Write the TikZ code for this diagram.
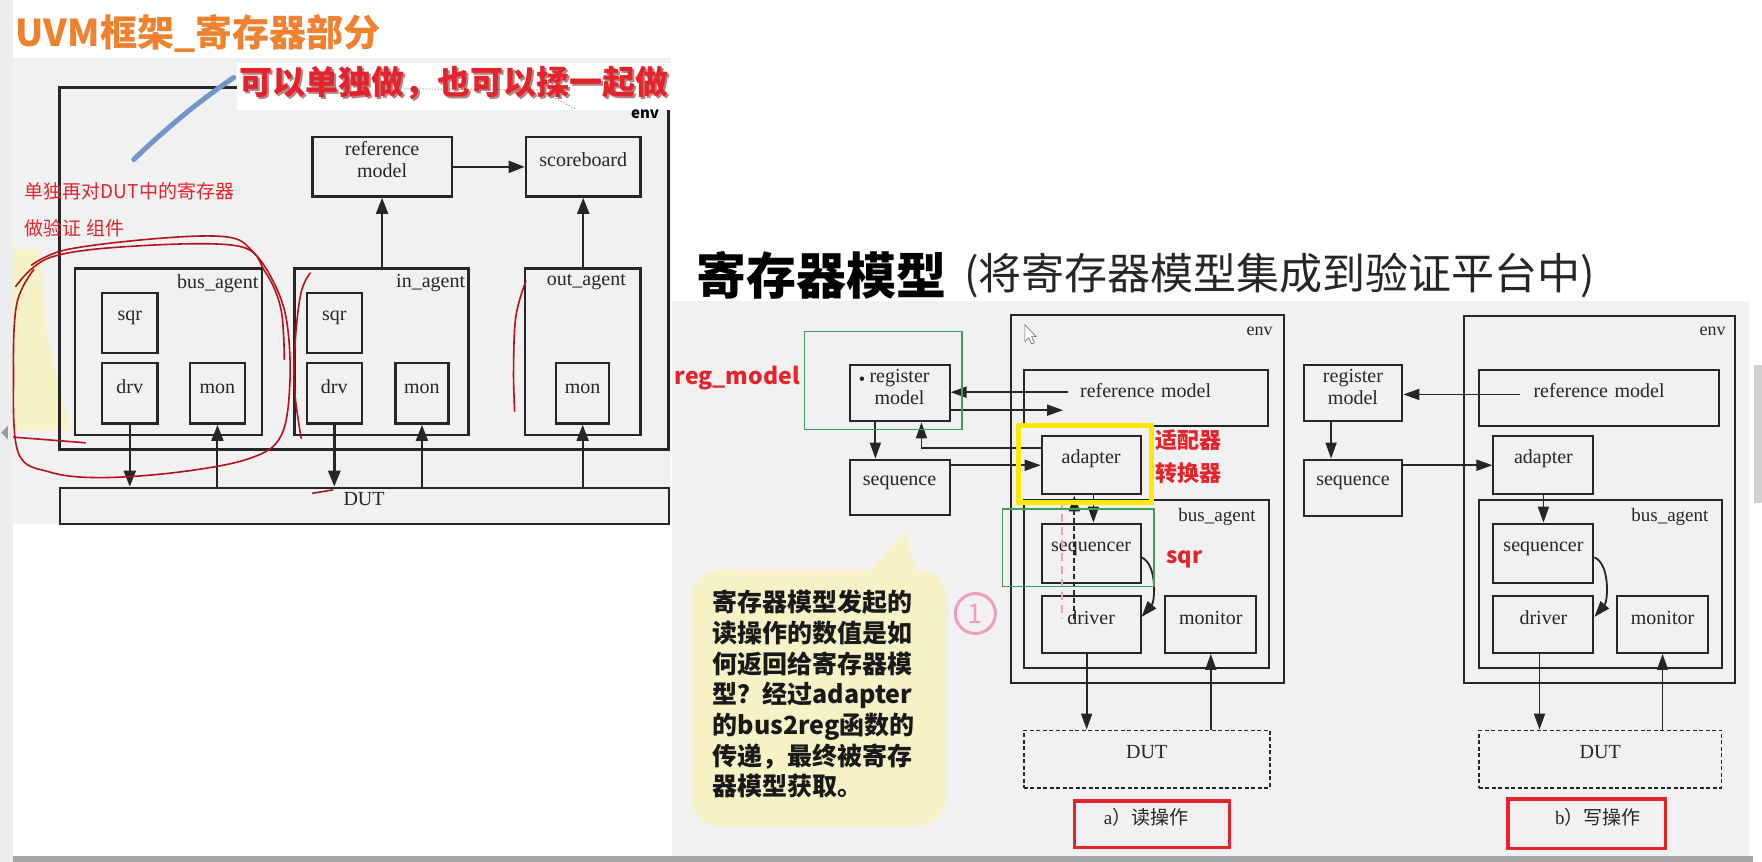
\documentclass[tikz,border=0pt]{standalone}
\usepackage{fontspec}
\setmainfont{Liberation Serif}
\newfontfamily\cjk{Noto Sans CJK SC}
\usetikzlibrary{arrows.meta,fit,calc}
\def\U{1.1237pt}
\definecolor{orangeT}{HTML}{F0812E}
\definecolor{redT}{HTML}{E5232B}
\definecolor{darkR}{HTML}{B5121B}
\definecolor{ink}{HTML}{262626}
\definecolor{panel}{HTML}{F1F1F1}
\definecolor{greenB}{HTML}{3E9E55}
\definecolor{yelH}{HTML}{FFE800}
\definecolor{callout}{HTML}{F5F3C6}
\definecolor{pinkC}{HTML}{F29CC0}
\definecolor{blueS}{HTML}{7096CC}
\begin{document}
\begin{tikzpicture}[x=1.1237pt,y=-1.1237pt,
  bx/.style={draw=ink, line width=2.4pt, inner sep=0pt, fit={#1}, font=\fontsize{20}{22}\selectfont, text=ink, align=center},
  bxr/.style={draw=ink, line width=2pt, inner sep=0pt, fit={#1}, font=\fontsize{20}{22}\selectfont, text=ink, align=center},
  dutbox/.style={draw=ink, line width=1.8pt, dash pattern=on 4pt off 2.5pt, inner sep=0pt, fit={#1}, font=\fontsize{20}{22}\selectfont, text=ink},
  lbl/.style={font=\fontsize{20}{22}\selectfont, text=ink, inner sep=0pt},
  larr/.style={draw=ink, line width=2pt, -{Triangle[length=16pt,width=12pt]}},
  arr/.style={draw=ink, line width=1.8pt, -{Triangle[length=16pt,width=11pt]}},
  gbox/.style={draw=greenB, line width=1.3pt, inner sep=0pt, fit={#1}},
  redlbl/.style={font=\cjk\bfseries\fontsize{22}{24}\selectfont, text=redT, inner sep=0pt},
  scrib/.style={draw=darkR, line width=1.6pt, line cap=round, line join=round},
  capbox/.style={draw=redT, line width=3.5pt, inner sep=0pt, fit={#1}}
]
\fill[white] (0,0) rectangle (1568,767);
\useasboundingbox (0,0) rectangle (1568,767);
% backgrounds
\fill[black!7] (0,0) rectangle (12,767);
\fill[black!40] (1,385) -- (7,379) -- (7,391) -- cycle;
\fill[panel] (12,52) rectangle (597,466);
\fill[callout] (12,222) -- (35,222) -- (42,300) -- (63,383) -- (12,383) -- cycle;
\fill[panel] (598,268) rectangle (1556,762);
\fill[black!35] (12,762) rectangle (1560,767);
\fill[black!18] (1561,325) rectangle (1568,448);

% titles
\node[anchor=west, inner sep=0, text=orangeT, font=\cjk\bfseries\fontsize{37}{40}\selectfont] (title) at (14,30) {UVM框架\_寄存器部分};

% ================= left diagram =================
\node[bx={(53,78) (595,400)}] (Lenv) {};
\node[bx={(278,122) (402,175)}] (Lref) {reference\\model};
\node[bx={(468,122) (570,175)}] (Lsb) {scoreboard};
\node[bx={(67,239) (233,387)}] (LbA) {};
\node[bx={(91,261) (140,314)}] (LbSqr) {sqr};
\node[bx={(91,323) (140,377)}] (LbDrv) {drv};
\node[bx={(169,323) (218,377)}] (LbMon) {mon};
\node[bx={(262,239) (417,387)}] (LiA) {};
\node[bx={(273,261) (322,314)}] (LiSqr) {sqr};
\node[bx={(273,323) (322,377)}] (LiDrv) {drv};
\node[bx={(352,323) (399,377)}] (LiMon) {mon};
\node[bx={(467,239) (570,387)}] (LoA) {};
\node[bx={(495,323) (542,377)}] (LoMon) {mon};
\node[bxr={(53,434) (595,466)}] (Ldut) {DUT};
\node[lbl, anchor=north east] (LbAl) at ([xshift=-4*\U,yshift=-6*\U]LbA.north east) {bus\_agent};
\node[lbl, anchor=north east] (LiAl) at ([xshift=-4*\U,yshift=-6*\U]LiA.north east) {in\_agent};
\node[lbl, anchor=north east] (LoAl) at ([xshift=-14*\U,yshift=-6*\U]LoA.north east) {out\_agent};

\draw[larr] (LbDrv.south) -- (LbDrv.south |- Ldut.north);
\draw[larr] (LbMon.south |- Ldut.north) -- (LbMon.south);
\draw[larr, line width=3pt] (LiDrv.south) -- (LiDrv.south |- Ldut.north);
\draw[larr] (LiMon.south |- Ldut.north) -- (LiMon.south);
\draw[larr] (LoMon.south |- Ldut.north) -- (LoMon.south);
\draw[larr] (LiA.north -| Lref.south) -- (Lref.south);
\draw[larr] (LoA.north -| Lsb.south) -- (Lsb.south);
\draw[larr] (Lref.east) -- (Lsb.west);

% annotation layer on left
\fill[white] (211,56) rectangle (608,98);
\draw[black!45, line width=1pt, dotted] (360,79) -- (480,80) -- (512,97);
\node[inner sep=0, text=darkR!60!black, opacity=0.5, font=\cjk\bfseries\fontsize{33}{36}\selectfont] (redShadow) at (405.5,75.5) {可以单独做，也可以揉一起做};
\node[inner sep=0, text=redT, font=\cjk\bfseries\fontsize{33}{36}\selectfont] (redTop) at (404,74) {可以单独做，也可以揉一起做};
\node[anchor=center, inner sep=0, font=\cjk\bfseries\fontsize{15}{15}\selectfont] (LenvL) at (574,102) {env};
\draw[blueS, line width=5pt, line cap=round] (119,142) .. controls (150,112) and (180,88) .. (208,69);
\node[anchor=west, inner sep=0, text=redT, font=\cjk\fontsize{19}{20}\selectfont] (note1) at (22,170) {单独再对DUT中的寄存器};
\node[anchor=west, inner sep=0, text=redT, font=\cjk\fontsize{19}{20}\selectfont] (note2) at (22,203) {做验证 组件};
\draw[scrib] plot[smooth, tension=0.6] coordinates {(28,236) (60,222) (143,212) (203,211) (225,224) (243,250) (255,285) (258,340) (250,388) (222,408) (160,420) (90,425) (44,420) (16,402) (12,330) (15,270) (30,240)};
\draw[scrib] plot[smooth, tension=0.6] coordinates {(14,255) (45,229) (120,219) (212,219) (236,242) (250,275) (253,320)};
\draw[scrib] plot[smooth, tension=0.6] coordinates {(276,243) (268,260) (263,300) (262,345) (268,390)};
\draw[scrib] plot[smooth, tension=0.6] coordinates {(468,250) (459,282) (457,330) (458,366)};
\draw[scrib] (12,389) -- (76,394);
\draw[scrib] (278,439) -- (296,436);

% ================= right title =================
\node[anchor=west, inner sep=0, text=black, font=\cjk\bfseries\fontsize{50}{52}\selectfont] (rt1) at (620,245) {寄存器模型};
\node[anchor=west, inner sep=0, text=black!85, font=\cjk\fontsize{43}{46}\selectfont] (rt2) at (858,245) {(将寄存器模型集成到验证平台中)};

% ================= right diagram a =================
\node[bxr={(900,280) (1143,608)}] (aEnv) {};
\node[lbl, font=\fontsize{18}{18}\selectfont] (aEnvL) at (1121,295) {env};
\node[bxr={(756,325) (845,375)}] (aReg) {register\\model};
\fill[ink] (767,337) circle (2);
\node[bxr={(756,409) (845,458)}] (aSeq) {sequence};
\node[bxr={(911,329) (1128,379)}] (aRef) {reference model};
\node[bxr={(927,388) (1015,440)}] (aAdp) {adapter};
\node[bxr={(911,445) (1129,594)}] (aBus) {};
\node[lbl, font=\fontsize{19}{19}\selectfont] (aBusL) at (1083,460) {bus\_agent};
\node[bxr={(927,466) (1015,519)}] (aSqr) {sequencer};
\node[bxr={(927,530) (1015,581)}] (aDrv) {driver};
\node[bxr={(1037,530) (1118,581)}] (aMon) {monitor};
\node[dutbox={(911,650) (1130,701)}] (aDut) {DUT};
\coordinate (aRefIn) at (950,349);
\coordinate (aRefOut) at (946,365);
\draw[arr] (aRefIn) -- (aReg.east |- aRefIn);
\draw[arr] (aReg.east |- aRefOut) -- (aRefOut);
\draw[arr] ([xshift=-21.5*\U]aReg.south) -- ([xshift=-21.5*\U]aSeq.north);
\draw[arr] ([yshift=15*\U]aAdp.west) -| ([xshift=19.5*\U]aReg.south);
\draw[arr] (aSeq.east |- aAdp.west) -- (aAdp.west);
\draw[arr] ([xshift=2*\U]aAdp.south) -- ([xshift=2*\U]aSqr.north);
\draw[pinkC, line width=2pt, dash pattern=on 8pt off 5pt] ([xshift=-26*\U,yshift=-5*\U]aAdp.south) -- ([xshift=-26*\U,yshift=-22*\U]aDrv.north);
\draw[arr, dash pattern=on 5pt off 3pt] ([xshift=-15*\U,yshift=-22*\U]aDrv.north) -- ([xshift=-15*\U]aAdp.south);
\draw[arr] ([yshift=-3.5*\U]aSqr.east) .. controls +(14,6) and +(12,-14) .. ([yshift=6.5*\U]aDrv.east);
\draw[arr] ([xshift=-4*\U]aDrv.south) -- ([xshift=-4*\U]aDrv.south |- aDut.north);
\draw[arr] (aMon.south |- aDut.north) -- (aMon.south);
% cursor
\draw[black!60, fill=white, line width=0.6pt] (912,289) -- (912,304) -- (915.5,300.5) -- (918,306) -- (920.5,305) -- (918,299.5) -- (922,299.5) -- cycle;
% highlights
\node[gbox={(716,295) (856,382)}] (aGreg) {};
\node[gbox={(892,453) (1027,522)}] (aGsqr) {};
\node[draw=yelH, line width=5pt, inner sep=0pt, fit={(906,379) (1025,447)}] (aYel) {};
\node[redlbl, font=\cjk\bfseries\fontsize{23}{24}\selectfont] (regml) at (656,336) {reg\_model};
\node[redlbl] (adl1) at (1058,392) {适配器};
\node[redlbl] (adl2) at (1058,421) {转换器};
\node[redlbl] (sqrl) at (1054,498) {sqr};
\node[circle, draw=pinkC, line width=3pt, minimum size=40pt, inner sep=0pt, text=pinkC, font=\cjk\fontsize{27}{27}\selectfont] (aOne) at (868,546) {1};
% callout
\node[fill=callout, rounded corners=28pt, inner sep=0pt, fit={(615,507) (842,735)}] (callout) {};
\fill[callout] (770,512) -- (806,472) -- (816,512) -- cycle;
\node[anchor=north west, inner sep=0pt, align=left, text=black!90, font=\cjk\bfseries\fontsize{25}{30.7}\selectfont] (calloutText) at (634,525) {寄存器模型发起的\\读操作的数值是如\\何返回给寄存器模\\型？经过adapter\\的bus2reg函数的\\传递，最终被寄存\\器模型获取。};
% caption
\node[capbox={(956,713) (1094,754)}] (aCap) {};
\node[lbl, font=\fontsize{19}{19}\selectfont] (aCapT) at (1020,727) {a{\cjk ）读操作}};

% ================= right diagram b =================
\node[bxr={(1303,281) (1544,608)}] (bEnv) {};
\node[lbl, font=\fontsize{18}{18}\selectfont] (bEnvL) at (1524,295) {env};
\node[bxr={(1160,325) (1248,375)}] (bReg) {register\\model};
\node[bxr={(1160,409) (1248,459)}] (bSeq) {sequence};
\node[bxr={(1316,329) (1530,379)}] (bRef) {reference model};
\node[bxr={(1329,388) (1418,440)}] (bAdp) {adapter};
\node[bxr={(1316,445) (1532,594)}] (bBus) {};
\node[lbl, font=\fontsize{19}{19}\selectfont] (bBusL) at (1486,460) {bus\_agent};
\node[bxr={(1329,466) (1418,519)}] (bSqr) {sequencer};
\node[bxr={(1329,530) (1418,581)}] (bDrv) {driver};
\node[bxr={(1439,530) (1520,581)}] (bMon) {monitor};
\node[dutbox={(1316,650) (1532,701)}] (bDut) {DUT};
\coordinate (bRefIn) at (1353,351);
\draw[arr] (bRefIn) -- (bReg.east |- bRefIn);
\draw[arr] ([xshift=-19.5*\U]bReg.south) -- ([xshift=-19.5*\U]bSeq.north);
\draw[arr] (bSeq.east |- bAdp.west) -- (bAdp.west);
\draw[arr] (bAdp.south) -- (bSqr.north);
\draw[arr] ([yshift=-3.5*\U]bSqr.east) .. controls +(14,6) and +(12,-14) .. ([yshift=6.5*\U]bDrv.east);
\draw[arr] ([xshift=-3.5*\U]bDrv.south) -- ([xshift=-3.5*\U]bDrv.south |- bDut.north);
\draw[arr] (bMon.south |- bDut.north) -- (bMon.south);
\node[capbox={(1342,711) (1482,755)}] (bCap) {};
\node[lbl, font=\fontsize{19}{19}\selectfont] (bCapT) at (1422,727) {b{\cjk ）写操作}};
\end{tikzpicture}
\end{document}
